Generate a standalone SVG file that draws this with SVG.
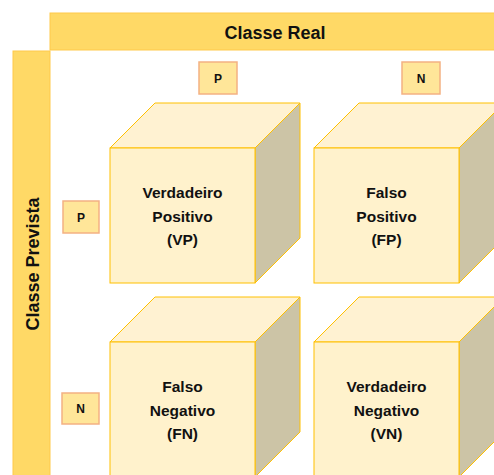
<svg xmlns="http://www.w3.org/2000/svg" width="494" height="475" viewBox="0 0 494 475">
<style>
.banner{fill:#FFD966;stroke:#FFC94A;stroke-width:1}
.tag{fill:#FFE699;stroke:#F4B183;stroke-width:1.5}
.front{fill:#FFF2CC;stroke:#FFC000;stroke-width:1}
.top{fill:#FFF2D2;stroke:#FFC000;stroke-width:1}
.side{fill:#CCC4A6;stroke:#FFC000;stroke-width:1}
text{font-family:"Liberation Sans",Arial,sans-serif;font-weight:bold;fill:#111;text-anchor:middle}
.h{font-size:18px}
.t{font-size:12px}
.c{font-size:15.5px}
</style>
<rect width="494" height="475" fill="#FFFFFF"/>
<g id="classe-real">
<rect class="banner" x="50" y="13" width="450" height="37"/>
<text class="h" x="275" y="38.5">Classe Real</text>
</g>
<g id="classe-prevista">
<rect class="banner" x="13" y="51" width="37" height="430"/>
<text class="h" transform="translate(39,264) rotate(-90)">Classe Prevista</text>
</g>
<g id="tag-real-p"><rect class="tag" x="199" y="62" width="38" height="32"/><text class="t" x="218" y="82.5">P</text></g>
<g id="tag-real-n"><rect class="tag" x="402" y="62" width="38" height="32"/><text class="t" x="421" y="82.5">N</text></g>
<g id="tag-prev-p"><rect class="tag" x="63" y="201" width="36" height="32"/><text class="t" x="81" y="221.5">P</text></g>
<g id="tag-prev-n"><rect class="tag" x="62" y="393" width="37" height="31"/><text class="t" x="80.5" y="413">N</text></g>
<g id="vp">
<polygon class="top" points="110,148 155,103 300,103 255,148"/>
<polygon class="side" points="255,148 300,103 300,238 255,283"/>
<rect class="front" x="110" y="148" width="145" height="135"/>
<text class="c" x="182.5" y="198">Verdadeiro</text>
<text class="c" x="182.5" y="222">Positivo</text>
<text class="c" x="182.5" y="245">(VP)</text>
</g>
<g id="fp">
<polygon class="top" points="314,148 359,103 504,103 459,148"/>
<polygon class="side" points="459,148 504,103 504,238 459,283"/>
<rect class="front" x="314" y="148" width="145" height="135"/>
<text class="c" x="386.5" y="198">Falso</text>
<text class="c" x="386.5" y="222">Positivo</text>
<text class="c" x="386.5" y="245">(FP)</text>
</g>
<g id="fn">
<polygon class="top" points="110,342 155,297 300,297 255,342"/>
<polygon class="side" points="255,342 300,297 300,432 255,477"/>
<rect class="front" x="110" y="342" width="145" height="135"/>
<text class="c" x="182.5" y="392">Falso</text>
<text class="c" x="182.5" y="416">Negativo</text>
<text class="c" x="182.5" y="439">(FN)</text>
</g>
<g id="vn">
<polygon class="top" points="314,342 359,297 504,297 459,342"/>
<polygon class="side" points="459,342 504,297 504,432 459,477"/>
<rect class="front" x="314" y="342" width="145" height="135"/>
<text class="c" x="386.5" y="392">Verdadeiro</text>
<text class="c" x="386.5" y="416">Negativo</text>
<text class="c" x="386.5" y="439">(VN)</text>
</g>
</svg>
